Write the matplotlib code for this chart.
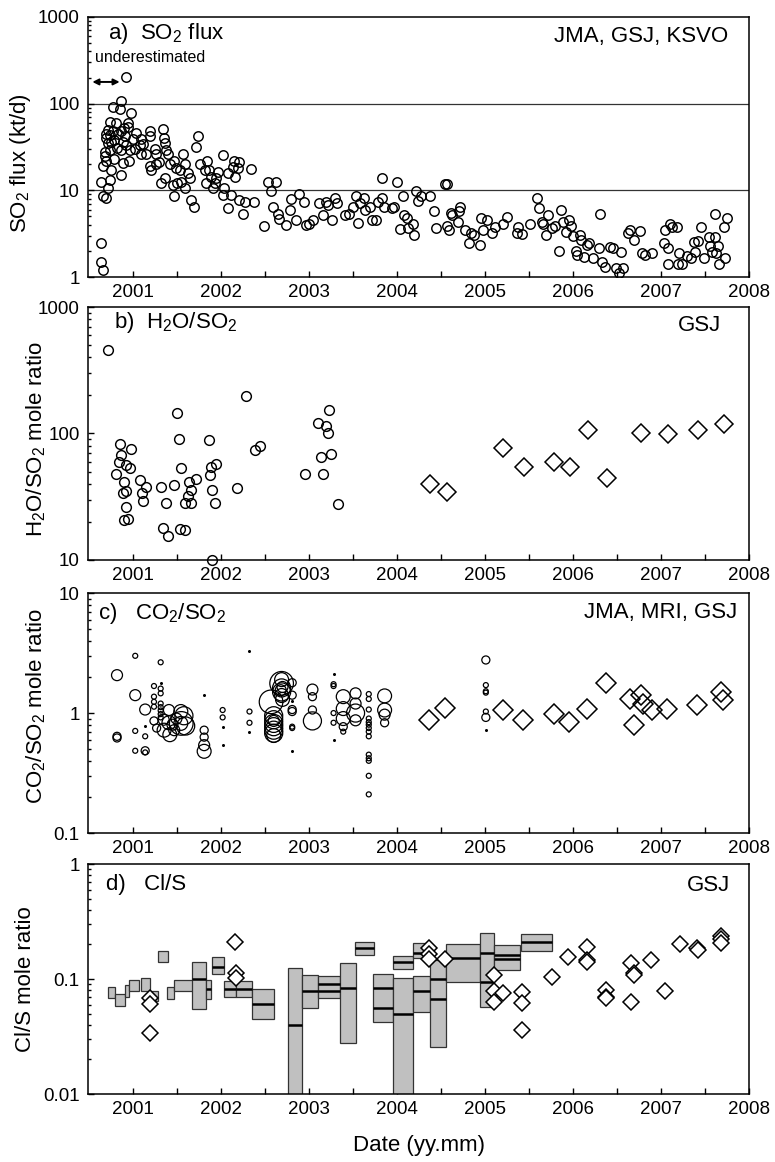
import matplotlib
matplotlib.use("Agg")
import matplotlib.pyplot as plt
from matplotlib.ticker import FixedLocator, LogLocator, FuncFormatter, NullFormatter

plt.rcParams.update({
    "font.family": ["Liberation Sans", "DejaVu Sans"],
    "mathtext.fontset": "custom",
    "mathtext.rm": "Liberation Sans",
    "axes.linewidth": 1.1,
    "xtick.labelsize": 13.5,
    "ytick.labelsize": 13.5,
})

# ---- a) SO2 flux (kt/d), (decimal year, flux) ----
so2_2000 = [
    (2000.925, 205), (2000.86, 106), (2000.77, 92), (2000.85, 86), (2000.98, 77),
    (2000.735, 62), (2000.81, 60), (2000.94, 60), (2000.716, 50), (2000.77, 48),
    (2000.70, 45), (2000.868, 48), (2000.95, 54), (2000.90, 52), (2000.70, 40),
    (2000.72, 35), (2000.755, 36), (2000.68, 28), (2000.735, 29), (2000.79, 23),
    (2000.66, 19), (2000.70, 22), (2000.755, 17), (2000.86, 15), (2000.89, 20.5),
    (2000.96, 22), (2000.97, 29), (2000.87, 29), (2000.89, 36), (2000.82, 31),
    (2000.906, 42), (2000.64, 12.6), (2000.66, 8.5), (2000.70, 8.1), (2000.716, 10.5),
    (2000.735, 13.2), (2000.64, 2.5), (2000.64, 1.5), (2000.66, 1.2), (2000.68, 25),
    (2000.74, 44), (2000.79, 38), (2000.83, 45), (2000.92, 33),
]
so2_2001 = [
    (2001.04, 46), (2001.095, 39), (2001.20, 48), (2001.19, 42), (2001.34, 51),
    (2001.35, 40), (2001.37, 35), (2001.38, 29), (2001.40, 26), (2001.08, 33),
    (2001.095, 26), (2001.15, 26), (2001.19, 19), (2001.21, 17), (2001.265, 20),
    (2001.265, 26), (2001.30, 21), (2001.32, 12), (2001.37, 14), (2001.42, 20),
    (2001.466, 22), (2001.49, 18), (2001.57, 26), (2001.53, 17), (2001.59, 20),
    (2001.625, 16), (2001.455, 11.5), (2001.47, 8.5), (2001.50, 12), (2001.55, 12.6),
    (2001.587, 10.5), (2001.645, 14), (2001.66, 7.7), (2001.70, 6.5), (2001.72, 32),
    (2001.74, 42), (2001.76, 20), (2001.845, 22), (2001.815, 17), (2001.87, 17),
    (2001.89, 14.4), (2001.83, 12), (2001.93, 12), (2001.966, 16.4), (2001.95, 13.8),
    (2001.91, 10.5), (2001.0, 39), (2001.02, 30), (2001.12, 34), (2001.25, 30),
]
so2_2002 = [
    (2002.02, 25.6), (2002.04, 10.5), (2002.02, 8.9), (2002.08, 6.2), (2002.12, 8.9),
    (2002.15, 22), (2002.21, 21.4), (2002.19, 18), (2002.08, 15.7), (2002.16, 14.4),
    (2002.14, 18.8), (2002.21, 7.7), (2002.25, 5.4), (2002.27, 7.4), (2002.345, 17.5),
    (2002.38, 7.4), (2002.49, 3.9), (2002.53, 12.6), (2002.625, 12.4), (2002.565, 9.9),
    (2002.59, 6.5), (2002.65, 5.4), (2002.66, 4.7), (2002.74, 4.0), (2002.78, 6.0),
    (2002.80, 7.9), (2002.85, 4.6), (2002.89, 9.1), (2002.94, 7.4), (2002.97, 4.0),
]
so2_2003 = [
    (2003.00, 4.1), (2003.05, 4.6), (2003.12, 7.1), (2003.16, 5.2), (2003.19, 7.4),
    (2003.22, 6.8), (2003.26, 4.5), (2003.30, 8.1), (2003.32, 7.2), (2003.41, 5.2),
    (2003.45, 5.3), (2003.50, 6.4), (2003.54, 8.6), (2003.56, 4.2), (2003.58, 7.2),
    (2003.625, 8.1), (2003.64, 5.9), (2003.69, 6.4), (2003.72, 4.6), (2003.76, 4.6),
    (2003.79, 7.4), (2003.83, 13.8), (2003.83, 8.1), (2003.85, 6.4), (2003.94, 6.2),
    (2003.97, 6.4),
]
so2_2004 = [
    (2004.00, 12.6), (2004.03, 3.6), (2004.07, 8.6), (2004.08, 5.2), (2004.11, 4.75),
    (2004.13, 3.65), (2004.18, 4.1), (2004.19, 3.05), (2004.22, 9.9), (2004.24, 7.6),
    (2004.27, 8.6), (2004.37, 8.6), (2004.42, 5.7), (2004.44, 3.65), (2004.55, 11.9),
    (2004.565, 11.9), (2004.57, 3.9), (2004.595, 3.5), (2004.61, 5.5), (2004.63, 5.2),
    (2004.71, 5.7), (2004.72, 6.4), (2004.69, 4.35), (2004.77, 3.5), (2004.82, 2.5),
    (2004.84, 3.2), (2004.875, 3.05), (2004.94, 2.35), (2004.95, 4.75), (2004.98, 3.5),
]
so2_2005 = [
    (2005.02, 4.5), (2005.08, 3.2), (2005.11, 3.75), (2005.21, 4.1), (2005.25, 4.9),
    (2005.38, 3.8), (2005.36, 3.2), (2005.42, 3.15), (2005.51, 4.1), (2005.59, 8.1),
    (2005.61, 6.2), (2005.645, 4.35), (2005.66, 4.1), (2005.69, 3.05), (2005.72, 5.2),
    (2005.76, 3.65), (2005.80, 3.9), (2005.84, 2.0), (2005.865, 6.0), (2005.89, 4.35),
    (2005.92, 3.35), (2005.955, 4.55), (2005.98, 3.9),
]
so2_2006 = [
    (2006.00, 3.0), (2006.03, 2.0), (2006.05, 1.8), (2006.08, 3.05), (2006.09, 2.7),
    (2006.13, 1.7), (2006.16, 2.35), (2006.18, 2.5), (2006.23, 1.65), (2006.29, 2.15),
    (2006.31, 5.3), (2006.33, 1.5), (2006.36, 1.3), (2006.42, 2.2), (2006.46, 2.15),
    (2006.485, 1.26), (2006.52, 1.12), (2006.55, 1.95), (2006.57, 1.26), (2006.62, 3.25),
    (2006.65, 3.5), (2006.69, 2.7), (2006.76, 3.4), (2006.78, 1.9), (2006.82, 1.8),
    (2006.895, 1.9),
]
so2_2007 = [
    (2007.03, 2.5), (2007.05, 3.5), (2007.08, 2.15), (2007.10, 4.1), (2007.12, 3.8),
    (2007.18, 3.8), (2007.085, 1.4), (2007.205, 1.9), (2007.19, 1.4), (2007.24, 1.4),
    (2007.29, 1.75), (2007.34, 1.65), (2007.38, 2.55), (2007.42, 2.6), (2007.39, 1.95),
    (2007.455, 3.8), (2007.49, 1.65), (2007.54, 2.9), (2007.56, 2.3), (2007.58, 1.95),
    (2007.615, 5.3), (2007.615, 2.9), (2007.645, 2.25), (2007.62, 1.9), (2007.66, 1.4),
    (2007.71, 3.8), (2007.75, 4.75), (2007.73, 1.65),
]

# ---- b) H2O/SO2 mole ratio ----
h2o_circles = [
    (2000.716, 460), (2000.85, 83), (2000.87, 67), (2000.84, 60), (2000.81, 48),
    (2000.92, 56), (2000.98, 75), (2000.97, 53), (2000.905, 41.5), (2000.886, 33.6),
    (2000.92, 35), (2000.917, 26), (2000.894, 20.7), (2000.94, 21), (2001.083, 43),
    (2001.144, 37.5), (2001.106, 34), (2001.114, 29.4), (2001.32, 38), (2001.38, 28.4),
    (2001.34, 17.8), (2001.40, 15.5), (2001.50, 146), (2001.52, 90), (2001.55, 53),
    (2001.47, 39), (2001.54, 17.5), (2001.59, 17.3), (2001.64, 41.5), (2001.66, 36),
    (2001.72, 44), (2001.625, 32), (2001.59, 28.4), (2001.66, 28.4), (2001.86, 88.5),
    (2001.89, 54), (2001.95, 57), (2001.88, 47), (2001.90, 35.7), (2001.93, 28),
    (2001.90, 10), (2002.18, 36.8), (2002.28, 197), (2002.39, 74), (2002.44, 79),
    (2002.96, 48), (2003.10, 121), (2003.19, 114), (2003.22, 101), (2003.23, 153),
    (2003.14, 65), (2003.25, 69), (2003.16, 47.5), (2003.33, 27.7),
]
h2o_diamonds = [
    (2004.375, 40), (2004.565, 34.6), (2005.21, 77), (2005.44, 54.6), (2005.78, 60),
    (2005.97, 54), (2006.17, 106), (2006.39, 44.7), (2006.77, 100), (2007.08, 99),
    (2007.425, 106), (2007.71, 118.5),
]

# ---- c) CO2/SO2 mole ratio: (year, ratio, symbol size class 0..6) ----
co2_circles = [
    (2000.82, 2.07, 3), (2001.027, 3.0, 1), (2001.316, 2.65, 1), (2001.027, 1.41, 3),
    (2001.14, 1.07, 3), (2000.82, 0.62, 2), (2000.82, 0.64, 2), (2001.027, 0.71, 1),
    (2001.14, 0.64, 1), (2001.027, 0.485, 1), (2001.14, 0.485, 2), (2001.14, 0.47, 1),
    (2001.14, 0.78, 0), (2001.24, 1.68, 1), (2001.316, 1.79, 0), (2001.316, 1.6, 1),
    (2001.316, 1.46, 1), (2001.24, 1.37, 1), (2001.24, 1.24, 1), (2001.24, 1.13, 1),
    (2001.316, 1.2, 1), (2001.316, 1.12, 1), (2001.316, 1.05, 1), (2001.316, 0.98, 1),
    (2001.316, 0.92, 1), (2001.24, 0.86, 2), (2001.27, 0.75, 2), (2001.355, 0.72, 4),
    (2001.41, 1.06, 3), (2001.41, 0.83, 4), (2001.42, 0.66, 4), (2001.545, 1.03, 4),
    (2001.545, 0.82, 4), (2001.55, 0.82, 6), (2001.47, 0.72, 3), (2001.495, 0.9, 3),
    (2001.35, 0.88, 3), (2001.45, 0.8, 3), (2001.58, 0.95, 5), (2001.6, 0.78, 5),
    (2001.81, 0.72, 2), (2001.81, 0.63, 2), (2001.81, 0.54, 3), (2001.81, 0.48, 4),
    (2001.81, 1.41, 0), (2002.02, 1.06, 1), (2002.02, 0.92, 1), (2002.02, 0.77, 0),
    (2002.02, 0.54, 0), (2002.325, 3.3, 0), (2002.325, 1.03, 1), (2002.325, 0.83, 1),
    (2002.325, 0.70, 0), (2002.57, 1.24, 6), (2002.69, 1.77, 6), (2002.69, 1.62, 5),
    (2002.69, 1.5, 5), (2002.69, 1.4, 4), (2002.70, 1.3, 4), (2002.69, 1.9, 4),
    (2002.70, 1.65, 3), (2002.68, 1.55, 3), (2002.60, 0.95, 5), (2002.60, 0.88, 5),
    (2002.60, 0.82, 5), (2002.60, 0.77, 5), (2002.60, 0.72, 5), (2002.60, 0.68, 5),
    (2002.60, 0.65, 4), (2002.60, 0.86, 3), (2002.81, 1.79, 2), (2002.81, 1.41, 2),
    (2002.81, 1.25, 0), (2002.81, 1.03, 2), (2002.81, 1.07, 2), (2002.81, 0.75, 1),
    (2002.81, 0.77, 1), (2002.81, 0.485, 0), (2003.04, 1.57, 3), (2003.04, 1.37, 2),
    (2003.04, 1.06, 2), (2003.04, 0.86, 5), (2003.28, 2.1, 0), (2003.28, 1.68, 1),
    (2003.28, 1.74, 1), (2003.28, 1.0, 1), (2003.28, 0.83, 1), (2003.28, 0.6, 0),
    (2003.39, 1.37, 4), (2003.39, 1.09, 4), (2003.39, 0.9, 4), (2003.39, 0.77, 2),
    (2003.39, 0.70, 1), (2003.53, 1.46, 3), (2003.53, 1.2, 3), (2003.53, 1.0, 5),
    (2003.53, 0.87, 3), (2003.68, 1.44, 1), (2003.68, 1.31, 1), (2003.68, 1.07, 1),
    (2003.68, 0.9, 1), (2003.68, 0.84, 1), (2003.68, 0.8, 1), (2003.68, 0.75, 1),
    (2003.68, 0.7, 1), (2003.68, 0.64, 1), (2003.68, 0.45, 1), (2003.68, 0.42, 1),
    (2003.68, 0.40, 1), (2003.68, 0.30, 1), (2003.68, 0.21, 1), (2003.86, 1.39, 4),
    (2003.86, 1.06, 4), (2003.86, 0.97, 3), (2003.86, 0.83, 2), (2005.01, 2.77, 2),
    (2005.01, 1.71, 1), (2005.01, 1.48, 1), (2005.01, 1.52, 1), (2005.01, 1.03, 1),
    (2005.01, 0.92, 2), (2005.01, 0.72, 0),
]
co2_diamonds = [
    (2004.36, 0.875), (2004.55, 1.11), (2005.20, 1.07), (2005.43, 0.875), (2005.78, 0.99),
    (2005.95, 0.84), (2006.16, 1.08), (2006.38, 1.79), (2006.65, 1.30), (2006.775, 1.41),
    (2006.69, 0.79), (2006.79, 1.18), (2006.90, 1.07), (2007.065, 1.08), (2007.41, 1.17),
    (2007.68, 1.51), (2007.70, 1.28),
]

# ---- d) Cl/S mole ratio: boxes (start, end, low, high) and their mean lines ----
cl_start = [2000.72, 2000.80, 2000.91, 2000.96, 2001.09, 2001.19, 2001.28, 2001.39, 2001.47, 2001.67,
            2001.83, 2001.90, 2002.03, 2002.17, 2002.35, 2002.76, 2002.92, 2003.10, 2003.35, 2003.52,
            2003.73, 2003.95, 2003.95, 2004.18, 2004.18, 2004.37, 2004.56, 2004.94, 2005.105, 2005.41]
cl_end = [2000.80, 2000.91, 2000.96, 2001.07, 2001.19, 2001.29, 2001.40, 2001.47, 2001.68, 2001.83,
          2001.89, 2002.03, 2002.17, 2002.35, 2002.60, 2002.92, 2003.10, 2003.35, 2003.53, 2003.74,
          2003.955, 2004.18, 2004.18, 2004.37, 2004.37, 2004.56, 2004.945, 2005.105, 2005.40, 2005.76]
cl_low = [0.069, 0.058, 0.070, 0.078, 0.078, 0.064, 0.140, 0.067, 0.078, 0.055,
          0.067, 0.110, 0.070, 0.070, 0.045, 0.005, 0.0557, 0.069, 0.028, 0.162,
          0.0427, 0.005, 0.123, 0.052, 0.152, 0.0258, 0.095, 0.0577, 0.120, 0.176]
cl_high = [0.086, 0.074, 0.089, 0.098, 0.102, 0.079, 0.176, 0.086, 0.098, 0.142,
           0.098, 0.157, 0.096, 0.096, 0.0815, 0.126, 0.109, 0.107, 0.137, 0.212,
           0.110, 0.103, 0.160, 0.107, 0.204, 0.147, 0.201, 0.250, 0.198, 0.247]
cl_mean_box = [9, 10, 11, 12, 13, 14, 15, 16, 17, 17, 18, 19, 20, 20, 21, 22, 23, 24,
               25, 25, 26, 27, 27, 28, 28, 29]
cl_mean_val = [0.100, 0.082, 0.128, 0.082, 0.082, 0.061, 0.040, 0.079, 0.090, 0.079, 0.083,
               0.188, 0.083, 0.0565, 0.0497, 0.140, 0.078, 0.168, 0.100, 0.067, 0.152,
               0.168, 0.095, 0.162, 0.150, 0.212]
cl_diamonds = [
    (2001.19, 0.069), (2001.19, 0.0604), (2001.19, 0.0337), (2002.16, 0.209), (2002.17, 0.112),
    (2002.17, 0.1016), (2004.36, 0.186), (2004.36, 0.164), (2004.36, 0.150), (2004.55, 0.149),
    (2005.105, 0.1087), (2005.10, 0.0789), (2005.10, 0.0637), (2005.205, 0.0753),
    (2005.42, 0.0778), (2005.42, 0.0616), (2005.42, 0.036), (2005.76, 0.105), (2005.94, 0.157),
    (2006.155, 0.189), (2006.16, 0.147), (2006.16, 0.142), (2006.38, 0.0805), (2006.38, 0.0704),
    (2006.38, 0.068), (2006.66, 0.137), (2006.69, 0.112), (2006.69, 0.108), (2006.66, 0.0637),
    (2006.89, 0.147), (2007.04, 0.0789), (2007.22, 0.201), (2007.41, 0.188), (2007.42, 0.180),
    (2007.685, 0.239), (2007.685, 0.224), (2007.685, 0.205),
]

YEARS = list(range(2001, 2009))
HALF_YEARS = [y + 0.5 for y in range(2001, 2008)]
SIZE_PT = {0: 2.2, 1: 3.6, 2: 5.8, 3: 7.9, 4: 10.0, 5: 13.0, 6: 17.0}


def xy(points):
    return [p[0] for p in points], [p[1] for p in points]


def style_axis(ax, ylo, yhi):
    ax.set_xlim(2000.49, 2008)
    ax.set_yscale("log")
    ax.set_ylim(ylo, yhi)
    ax.xaxis.set_major_locator(FixedLocator(YEARS))
    ax.xaxis.set_minor_locator(FixedLocator(HALF_YEARS))
    ax.yaxis.set_major_locator(LogLocator(base=10))
    ax.yaxis.set_minor_locator(LogLocator(base=10, subs=range(2, 10)))
    ax.yaxis.set_major_formatter(FuncFormatter(lambda v, _: f"{v:g}"))
    ax.yaxis.set_minor_formatter(NullFormatter())
    ax.tick_params(axis="both", which="both", direction="in", top=False, right=False, width=1.0)
    ax.tick_params(axis="x", which="both", length=4.5, pad=5)
    ax.tick_params(axis="y", which="major", length=4.5, pad=6)
    ax.tick_params(axis="y", which="minor", length=2.5)


fig = plt.figure(figsize=(7.75, 11.62), dpi=100)
L, W = 0.1135, 0.853
ax_a = fig.add_axes([L, 0.7616, W, 0.2238])
ax_b = fig.add_axes([L, 0.5181, W, 0.2177])
ax_c = fig.add_axes([L, 0.2831, W, 0.2065])
ax_d = fig.add_axes([L, 0.0585, W, 0.1979])

# a) SO2 flux
style_axis(ax_a, 1, 1000)
for yv in (10, 100):
    ax_a.axhline(yv, color="#333333", lw=0.9, zorder=1)
for seg in (so2_2000, so2_2001, so2_2002, so2_2003, so2_2004, so2_2005, so2_2006, so2_2007):
    xs, ys = xy(seg)
    ax_a.plot(xs, ys, "o", ms=6.8, mfc="none", mec="black", mew=1.05, zorder=3)
ax_a.annotate("", xy=(2000.54, 178), xytext=(2000.85, 178),
              arrowprops=dict(arrowstyle="<|-|>", color="black", lw=1.4,
                              mutation_scale=9, shrinkA=0, shrinkB=0))
ax_a.text(0.011, 0.846, "underestimated", transform=ax_a.transAxes, fontsize=11.5,
          ha="left", va="center")
ax_a.text(0.03, 0.935, "a)  SO$_\\mathregular{2}$ flux", transform=ax_a.transAxes,
          fontsize=16, ha="left", va="center")
ax_a.text(0.968, 0.923, "JMA, GSJ, KSVO", transform=ax_a.transAxes, fontsize=16,
          ha="right", va="center")
ax_a.set_ylabel("SO$_\\mathregular{2}$ flux (kt/d)", fontsize=16)
ax_a.yaxis.set_label_coords(-0.083, 0.44)

# b) H2O/SO2
style_axis(ax_b, 10, 1000)
xs, ys = xy(h2o_circles)
ax_b.plot(xs, ys, "o", ms=7.0, mfc="none", mec="black", mew=1.05, zorder=3, clip_on=False)
xs, ys = xy(h2o_diamonds)
ax_b.plot(xs, ys, "D", ms=9.0, mfc="none", mec="black", mew=1.1, zorder=3)
ax_b.text(0.039, 0.937, "b)  H$_\\mathregular{2}$O/SO$_\\mathregular{2}$", transform=ax_b.transAxes,
          fontsize=16, ha="left", va="center")
ax_b.text(0.958, 0.925, "GSJ", transform=ax_b.transAxes, fontsize=16, ha="right", va="center")
ax_b.set_ylabel("H$_\\mathregular{2}$O/SO$_\\mathregular{2}$ mole ratio", fontsize=16)
ax_b.yaxis.set_label_coords(-0.06, 0.478)

# c) CO2/SO2
style_axis(ax_c, 0.1, 10)
for cls in sorted(SIZE_PT):
    pts = [p for p in co2_circles if p[2] == cls]
    xs, ys = xy(pts)
    if cls == 0:
        ax_c.scatter(xs, ys, s=SIZE_PT[cls] ** 2, c="black", marker="o", lw=0, zorder=3)
    else:
        ax_c.scatter(xs, ys, s=SIZE_PT[cls] ** 2, facecolors="none", edgecolors="black",
                     marker="o", lw=0.9, zorder=3)
xs, ys = xy(co2_diamonds)
ax_c.plot(xs, ys, "D", ms=10.0, mfc="none", mec="black", mew=1.1, zorder=3)
ax_c.text(0.015, 0.917, "c)   CO$_\\mathregular{2}$/SO$_\\mathregular{2}$", transform=ax_c.transAxes,
          fontsize=16, ha="left", va="center")
ax_c.text(0.982, 0.92, "JMA, MRI, GSJ", transform=ax_c.transAxes, fontsize=16,
          ha="right", va="center")
ax_c.set_ylabel("CO$_\\mathregular{2}$/SO$_\\mathregular{2}$ mole ratio", fontsize=16)
ax_c.yaxis.set_label_coords(-0.06, 0.53)

# d) Cl/S
style_axis(ax_d, 0.01, 1)
widths = [e - s for s, e in zip(cl_start, cl_end)]
heights = [h - l for l, h in zip(cl_low, cl_high)]
ax_d.bar(cl_start, heights, width=widths, bottom=cl_low, align="edge",
         color="#c0c0c0", edgecolor="#333333", linewidth=0.9, zorder=2)
ax_d.hlines(cl_mean_val, [cl_start[i] for i in cl_mean_box], [cl_end[i] for i in cl_mean_box],
            colors="black", lw=1.8, zorder=3)
xs, ys = xy(cl_diamonds)
ax_d.plot(xs, ys, "D", ms=8.5, mfc="white", mec="black", mew=1.1, zorder=4)
ax_d.text(0.027, 0.909, "d)   Cl/S", transform=ax_d.transAxes, fontsize=16,
          ha="left", va="center")
ax_d.text(0.971, 0.905, "GSJ", transform=ax_d.transAxes, fontsize=16, ha="right", va="center")
ax_d.set_ylabel("Cl/S mole ratio", fontsize=16)
ax_d.yaxis.set_label_coords(-0.079, 0.5)

fig.text(419 / 775, 1 - 1146 / 1162, "Date (yy.mm)", fontsize=16, ha="center", va="center")

fig.savefig("out.png", dpi=100)
